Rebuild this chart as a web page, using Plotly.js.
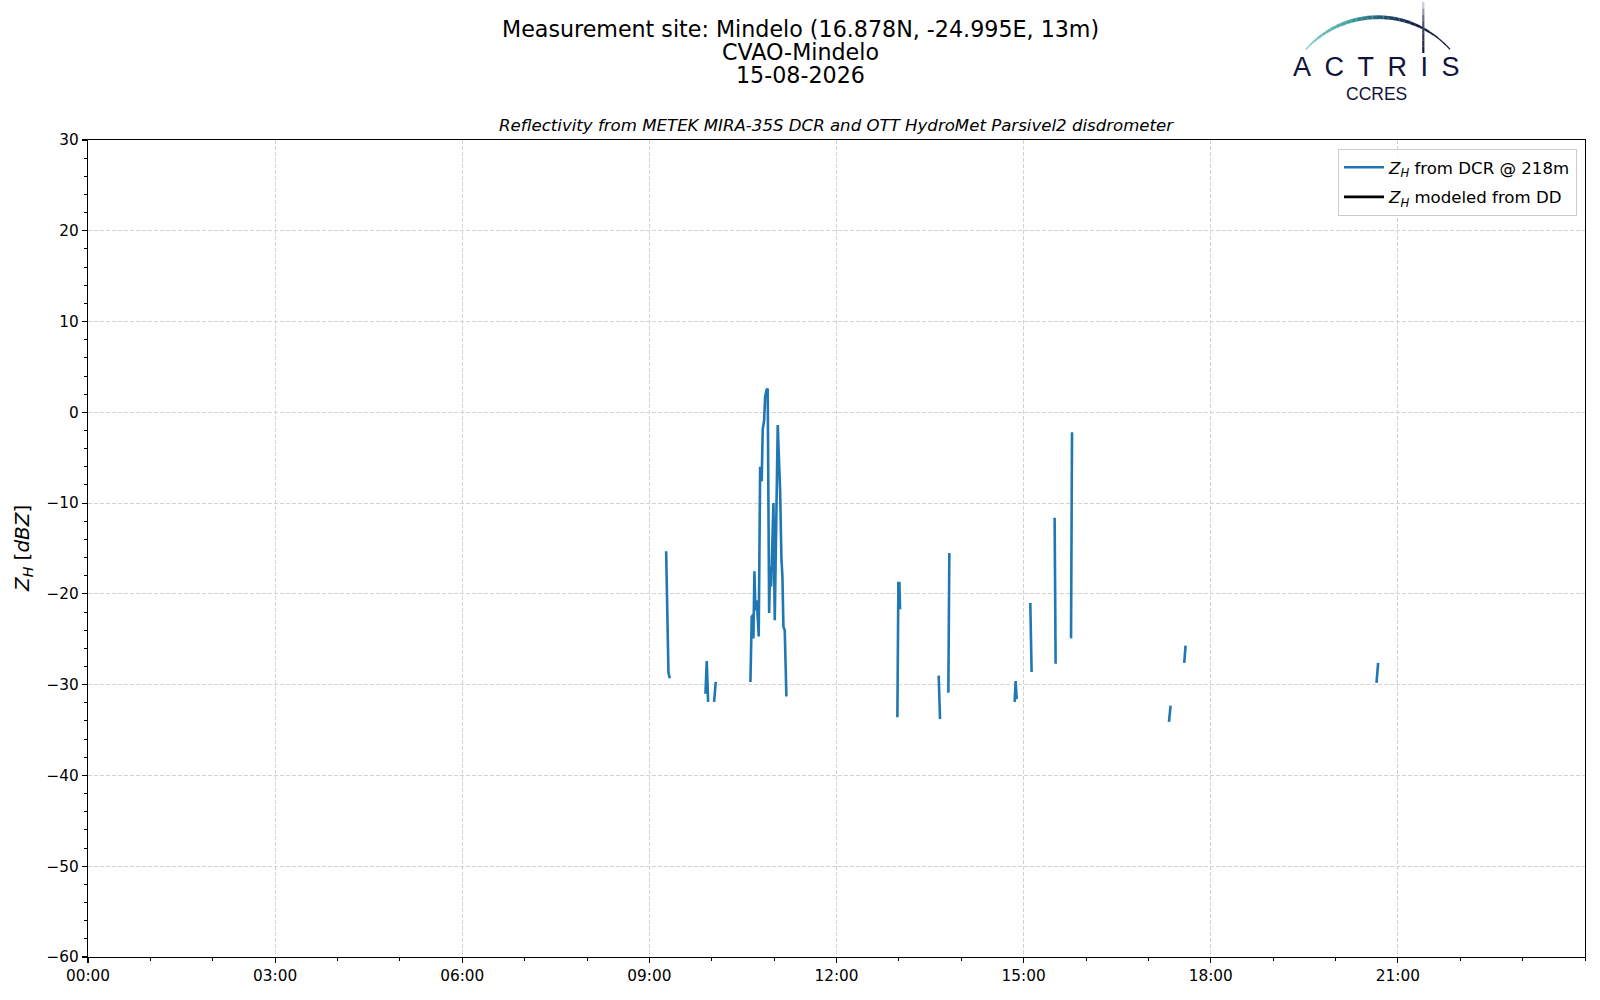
<!DOCTYPE html>
<html>
<head>
<meta charset="utf-8">
<script src="https://cdn.plot.ly/plotly-3.0.1.min.js"></script>
<style>
  html, body { margin: 0; padding: 0; background: #fff; }
  #chart { width: 1600px; height: 1000px; }
</style>
</head>
<body>
<div id="chart"></div>
<script>
// ---- Data (time of day in decimal hours, reflectivity in dBZ; null = no data) ----
const dcrHours = [
  9.269, 9.306, 9.327, 9.60,
  9.899, 9.920, 9.942, 9.99,
  10.038, 10.064, 10.30,
  10.620, 10.641, 10.663, 10.668, 10.684, 10.700, 10.721, 10.753, 10.776, 10.801,
  10.817, 10.840, 10.856, 10.877, 10.897, 10.920, 10.936, 10.952, 10.989, 11.010,
  11.058, 11.096, 11.117, 11.133, 11.149, 11.170, 11.197, 12.00,
  12.976, 12.992, 13.008, 13.019, 13.30,
  13.638, 13.660, 13.72,
  13.793, 13.809, 14.30,
  14.856, 14.872, 14.888, 15.00,
  15.107, 15.128, 15.30,
  15.497, 15.513, 15.60,
  15.760, 15.776, 16.50,
  17.330, 17.356, 17.45,
  17.575, 17.596, 19.00,
  20.657, 20.684
];
const dcrZh = [
  -15.3, -28.7, -29.3, null,
  -31.0, -27.4, -31.9, null,
  -31.9, -29.7, null,
  -29.7, -22.5, -22.3, -24.9, -17.5, -21.8, -20.7, -24.7, -6.0, -7.6,
  -1.9, -0.85, 1.7, 2.45, 2.6, -22.1, -17.0, -19.2, -10.0, -22.9,
  -1.4, -8.6, -16.1, -18.1, -23.6, -24.0, -31.3, null,
  -33.6, -18.8, -18.8, -21.7, null,
  -29.0, -33.8, null,
  -30.9, -15.5, null,
  -31.9, -29.6, -31.6, null,
  -21.0, -28.6, null,
  -11.6, -27.7, null,
  -24.9, -2.2, null,
  -34.1, -32.3, null,
  -27.6, -25.7, null,
  -29.8, -27.6
];
// Modeled reflectivity from the disdrometer: no values on this day
const ddHours = [null];
const ddZh = [null];

const xTickHours = [0, 3, 6, 9, 12, 15, 18, 21];
const xTickLabels = ["00:00", "03:00", "06:00", "09:00", "12:00", "15:00", "18:00", "21:00"];

const titleLines = ["Measurement site: Mindelo (16.878N, -24.995E, 13m)", "CVAO-Mindelo", "15-08-2026"];
const subTitle = "Reflectivity from METEK MIRA-35S DCR and OTT HydroMet Parsivel2 disdrometer";
const seriesNames = ["<i>Z</i><sub><i>H</i></sub> from DCR @ 218m", "<i>Z</i><sub><i>H</i></sub> modeled from DD"];

// ---- Layout geometry (pixels) ----
const W = 1600, H = 1000;
const M = { l: 88, r: 15, t: 140, b: 43 };
const PW = W - M.l - M.r, PH = H - M.t - M.b;
const px = x => (x - M.l) / PW;
const py = y => (H - M.b - y) / PH;
const FONT = "DejaVu Sans";
const LOGO_FONT = "Liberation Sans";

// ---- Logo (decoration) ----
const shapes = [];
function hex2rgb(h) { return [1, 3, 5].map(i => parseInt(h.substr(i, 2), 16)); }
function lerpColor(stops, f) {
  for (let i = 0; i < stops.length - 1; i++) {
    const [f0, c0] = stops[i], [f1, c1] = stops[i + 1];
    if (f >= f0 && f <= f1) {
      const t = (f - f0) / (f1 - f0);
      const a = hex2rgb(c0), b = hex2rgb(c1);
      return "rgb(" + a.map((v, k) => Math.round(v + (b[k] - v) * t)).join(",") + ")";
    }
  }
  return stops[stops.length - 1][1];
}
const arcStops = [[0, "#86d3c9"], [0.3, "#45a7a8"], [0.5, "#21637b"], [0.7, "#172447"], [1, "#0f1233"]];
const cx = 1378, cy = 114, R = 96.8;
const a0 = -138.1 * Math.PI / 180, a1 = -41.9 * Math.PI / 180;
const NSEG = 30;
for (let i = 0; i < NSEG; i++) {
  const t0 = a0 + (a1 - a0) * i / NSEG, t1 = a0 + (a1 - a0) * (i + 1) / NSEG;
  const f = (i + 0.5) / NSEG;
  const x0 = cx + R * Math.cos(t0), y0 = cy + R * Math.sin(t0);
  const x1 = cx + R * Math.cos(t1), y1 = cy + R * Math.sin(t1);
  shapes.push({
    type: "path", xref: "paper", yref: "paper", layer: "above",
    path: `M${px(x0)},${py(y0)} L${px(x1)},${py(y1)}`,
    line: { color: lerpColor(arcStops, f), width: 1.3 + 2.6 * Math.sin(Math.PI * Math.min(1, f * 1.1)) }
  });
}
const vStops = [[0, "#e0e0ea"], [0.35, "#5a5c7a"], [1, "#0f1233"]];
for (let i = 0; i < 8; i++) {
  const y0 = 2 + (53 - 2) * i / 8, y1 = 2 + (53 - 2) * (i + 1) / 8;
  shapes.push({
    type: "line", xref: "paper", yref: "paper", layer: "above",
    x0: px(1423.3), x1: px(1423.3), y0: py(y0), y1: py(y1),
    line: { color: lerpColor(vStops, (i + 0.5) / 8), width: 2.2 }
  });
}

const annotations = [
  { text: titleLines[0], x: px(800), y: py(28.5), xref: "paper", yref: "paper", xanchor: "center", yanchor: "middle", showarrow: false, font: { family: FONT, size: 22.2, color: "#000" } },
  { text: titleLines[1], x: px(800), y: py(51.5), xref: "paper", yref: "paper", xanchor: "center", yanchor: "middle", showarrow: false, font: { family: FONT, size: 22.2, color: "#000" } },
  { text: titleLines[2], x: px(800), y: py(75), xref: "paper", yref: "paper", xanchor: "center", yanchor: "middle", showarrow: false, font: { family: FONT, size: 22.2, color: "#000" } },
  { text: "<i>" + subTitle + "</i>", x: 0.5, y: py(125.5), xref: "paper", yref: "paper", xanchor: "center", yanchor: "middle", showarrow: false, font: { family: FONT, size: 16.6, color: "#000" } },
  { text: "<i>Z</i><sub><i>H</i></sub> [<i>dBZ</i>]", x: px(22.5), y: 0.5, xref: "paper", yref: "paper", xanchor: "center", yanchor: "middle", textangle: -90, showarrow: false, font: { family: FONT, size: 20, color: "#000" } },
  { text: "A\u2002C\u2002T\u2002R\u2002I\u2002S", x: px(1376), y: py(67.5), xref: "paper", yref: "paper", xanchor: "center", yanchor: "middle", showarrow: false, font: { family: LOGO_FONT, size: 27, color: "#12133a" } },
  { text: "CCRES", x: px(1376), y: py(94), xref: "paper", yref: "paper", xanchor: "center", yanchor: "middle", showarrow: false, font: { family: LOGO_FONT, size: 17.5, color: "#12133a" } }
];

const traces = [
  { x: dcrHours, y: dcrZh, type: "scatter", mode: "lines", name: seriesNames[0], legendgroup: "a", connectgaps: false,
    line: { color: "#1f77b4", width: 2.6 }, hoverinfo: "skip" },
  { x: ddHours, y: ddZh, type: "scatter", mode: "lines", name: seriesNames[1], legendgroup: "b", showlegend: true,
    line: { color: "#000000", width: 2.6 }, hoverinfo: "skip" }
];

const axisCommon = {
  showline: true, linecolor: "#000", linewidth: 1.1, mirror: true,
  ticks: "outside", ticklen: 5, tickwidth: 1.1, tickcolor: "#000",
  showgrid: true, gridcolor: "#d3d3d3", gridwidth: 1, griddash: "4px,2px",
  zeroline: false, tickfont: { family: FONT, size: 15.3, color: "#000" }
};

const layout = {
  width: W, height: H,
  margin: M,
  paper_bgcolor: "#fff", plot_bgcolor: "#fff",
  showlegend: true,
  xaxis: Object.assign({}, axisCommon, {
    range: [0, 24], tickmode: "array", tickvals: xTickHours, ticktext: xTickLabels,
    minor: { tickmode: "linear", tick0: 0, dtick: 1, ticks: "outside", ticklen: 3, tickcolor: "#000", tickwidth: 1, showgrid: false }
  }),
  yaxis: Object.assign({}, axisCommon, {
    range: [-60, 30], tickmode: "linear", tick0: 0, dtick: 10,
    minor: { tickmode: "linear", tick0: 0, dtick: 2, ticks: "outside", ticklen: 3, tickcolor: "#000", tickwidth: 1, showgrid: false }
  }),
  legend: {
    x: px(1577), y: py(149), xanchor: "right", yanchor: "top",
    bgcolor: "rgba(255,255,255,0.85)", bordercolor: "#cccccc", borderwidth: 1,
    font: { family: FONT, size: 16.6, color: "#000" },
    traceorder: "grouped", tracegroupgap: 5, itemwidth: 40
  },
  shapes: shapes,
  annotations: annotations
};

Plotly.newPlot("chart", traces, layout, { staticPlot: true, displayModeBar: false });
</script>
</body>
</html>
